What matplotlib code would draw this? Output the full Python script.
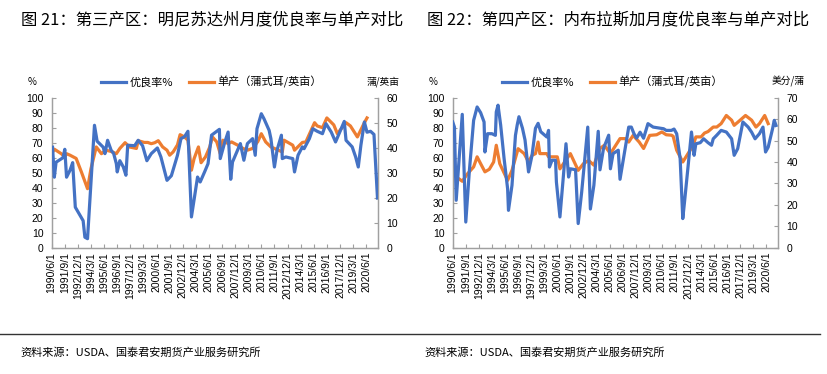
import matplotlib
matplotlib.use("Agg")
import matplotlib.pyplot as plt
import pandas as pd
from matplotlib.lines import Line2D

plt.rcParams['font.family'] = ['Liberation Sans Narrow', 'Liberation Sans', 'DejaVu Sans']
CJK = ['Noto Sans CJK SC', 'DejaVu Sans']

# ---- 明尼苏达州 (第三产区) ----
mn_good_dates = ['1990-07', '1990-09', '1990-11', '1991-07', '1991-09', '1991-11', '1992-03', '1992-06',
                 '1992-09', '1993-06', '1993-08', '1993-11', '1994-07', '1994-10', '1995-05', '1995-07',
                 '1995-10', '1996-02', '1996-05', '1996-08', '1996-09', '1996-12', '1997-04', '1997-07',
                 '1997-09', '1998-05', '1998-09', '1999-02', '1999-07', '1999-12', '2000-07', '2000-11',
                 '2001-06', '2001-11', '2002-06', '2002-10', '2003-02', '2003-06', '2003-10', '2004-05',
                 '2004-08', '2005-01', '2005-05', '2005-09', '2006-06', '2006-07', '2006-12', '2007-04',
                 '2007-07', '2007-09', '2008-06', '2008-10', '2009-02', '2009-08', '2009-11', '2010-01',
                 '2010-06', '2010-09', '2011-03', '2011-05', '2011-09', '2011-12', '2012-05', '2012-06',
                 '2012-10', '2013-06', '2013-08', '2013-12', '2014-05', '2014-07', '2015-01', '2015-05',
                 '2015-10', '2016-04', '2016-08', '2017-02', '2017-07', '2017-11', '2018-05', '2018-07',
                 '2019-02', '2019-06', '2019-09', '2019-12', '2020-04', '2020-07', '2020-11', '2021-03',
                 '2021-07']
mn_good = [67, 47, 57, 60, 65.6, 47, 51.6, 56.7,
           27, 18, 7, 6, 81.6, 71, 67, 62.7,
           71.6, 65, 62.7, 56, 50.5, 58, 53.8, 48.3,
           68.3, 68, 71.6, 68, 58, 62.7, 66.5, 60.5,
           44.9, 48, 61.6, 72.7, 74, 77.6, 20.5, 47.1,
           43.8, 50.5, 56, 75, 78.9, 59.4, 70, 77.1,
           45.6, 57.1, 69.4, 58.3, 69.4, 72.7, 61.6, 79.3,
           89.3, 86, 78.2, 72.7, 53.8, 65, 75, 59.4,
           60.5, 59.4, 50.5, 61.6, 67.2, 66, 72.7, 79.3,
           77.6, 76, 82.7, 77.1, 70.5, 76, 84.2, 71.6,
           67.2, 60.5, 53.8, 68.3, 83.8, 77, 77.6, 75.5,
           33.1]
mn_yield_dates = ['1990-06', '1990-09', '1991-05', '1991-09', '1991-11', '1992-03', '1992-10', '1993-04',
                  '1993-11', '1994-03', '1994-09', '1995-03', '1995-08', '1996-02', '1996-08', '1996-12',
                  '1997-06', '1997-11', '1998-07', '1998-09', '1999-04', '1999-08', '1999-12', '2000-04',
                  '2000-08', '2001-01', '2001-06', '2001-09', '2002-01', '2002-06', '2002-09', '2003-02',
                  '2003-06', '2003-10', '2004-01', '2004-06', '2004-09', '2005-02', '2005-07', '2005-10',
                  '2006-03', '2006-07', '2006-10', '2007-04', '2007-08', '2008-03', '2008-09', '2009-02',
                  '2009-08', '2010-02', '2010-06', '2010-11', '2011-05', '2011-09', '2012-06', '2012-08',
                  '2013-06', '2013-08', '2014-05', '2014-09', '2015-07', '2015-10', '2016-04', '2016-09',
                  '2017-05', '2017-09', '2018-07', '2018-12', '2019-08', '2020-04', '2020-07']
mn_yield = [37.6, 39.4, 37.6, 36.3, 37.6, 37, 35.7, 30.3,
            23.6, 31.6, 40.3, 37.6, 39, 38.5, 37.6, 39.7,
            42, 40.3, 39.7, 42.8, 42.1, 42.1, 41.6, 42,
            42.8, 40.3, 39, 37, 38.3, 41.1, 45.2, 44.3,
            43, 31, 35.6, 40.3, 34, 36.3, 40.3, 44.3,
            42.3, 37.6, 43, 41.6, 42.3, 41, 39.7, 39,
            39.7, 42.5, 45.6, 42.3, 40.3, 39.7, 38.3, 43,
            41, 39, 42.1, 42.3, 50, 48.7, 48, 51.9,
            49.1, 45.6, 50, 48.7, 44.3, 50, 51.9]

# ---- 内布拉斯加 (第四产区) ----
ne_good_dates = ['1990-06', '1990-08', '1990-10', '1991-05', '1991-09', '1992-01', '1992-06', '1992-10',
                 '1993-02', '1993-06', '1993-07', '1993-10', '1994-03', '1994-07', '1994-08', '1994-10',
                 '1995-01', '1995-05', '1995-09', '1995-10', '1996-02', '1996-06', '1996-08', '1996-10',
                 '1997-02', '1997-05', '1997-09', '1998-01', '1998-05', '1998-08', '1998-11', '1999-06',
                 '1999-08', '1999-09', '1999-12', '2000-04', '2000-05', '2000-09', '2001-01', '2001-04',
                 '2001-07', '2001-09', '2002-03', '2002-06', '2002-10', '2003-05', '2003-08', '2003-12',
                 '2004-05', '2004-07', '2004-11', '2005-05', '2005-07', '2005-10', '2006-04', '2006-06',
                 '2007-04', '2007-07', '2007-10', '2008-01', '2008-05', '2008-09', '2009-02', '2009-08',
                 '2010-08', '2010-11', '2011-05', '2011-08', '2011-11', '2012-03', '2012-06', '2012-08',
                 '2012-12', '2013-04', '2013-07', '2013-09', '2014-02', '2014-06', '2014-11', '2015-03',
                 '2015-05', '2015-09', '2016-02', '2016-08', '2017-02', '2017-05', '2017-09', '2018-03',
                 '2018-09', '2019-01', '2019-05', '2019-10', '2020-02', '2020-05', '2020-08', '2021-01',
                 '2021-03', '2021-05']
ne_good = [83.8, 80.4, 31.6, 88.9, 17.1, 50.5, 84.9, 93.8,
           90, 83.8, 63.8, 76, 76, 74.9, 90.5, 95,
           81.8, 59.4, 39.3, 24.9, 41.6, 74.9, 81.8, 87.3,
           79.6, 71.8, 50.5, 61.6, 79.6, 82.9, 77.3, 73.8,
           78.2, 53.8, 58.3, 58.3, 43.8, 20.5, 48, 69.3,
           47.1, 52.6, 52, 16.1, 37.1, 80.4, 25.8, 41.6,
           77.6, 51.9, 66.1, 75, 52.6, 62.7, 65, 45.6,
           80.4, 80.4, 76, 73, 77, 73, 82.7, 80.4,
           79.3, 78.2, 78.2, 79.1, 76, 59.4, 19.4, 30.5,
           53.8, 77.1, 61.6, 69.3, 70, 72.6, 70, 68.3,
           72.6, 75, 78.2, 77.1, 72.6, 61.6, 66, 83.8,
           80.4, 77, 72.6, 76, 80.4, 63.8, 67, 79.3,
           84.9, 81.5]
ne_yield_dates = ['1990-06', '1990-10', '1991-02', '1991-05', '1991-11', '1992-06', '1992-10', '1993-02',
                  '1993-07', '1993-12', '1994-05', '1994-08', '1994-12', '1995-09', '1996-02', '1996-09',
                  '1997-04', '1997-09', '1998-01', '1998-05', '1998-08', '1998-10', '1999-06', '1999-08',
                  '2000-06', '2000-09', '2001-09', '2002-06', '2002-12', '2003-06', '2003-12', '2004-07',
                  '2004-12', '2005-07', '2006-06', '2006-12', '2007-04', '2007-09', '2008-04', '2008-09',
                  '2009-04', '2009-12', '2010-06', '2010-11', '2011-05', '2011-07', '2011-11', '2012-06',
                  '2012-12', '2013-06', '2013-09', '2014-03', '2014-07', '2014-11', '2015-05', '2015-09',
                  '2016-02', '2016-08', '2017-02', '2017-05', '2017-09', '2018-06', '2019-01', '2019-06',
                  '2019-10', '2020-04', '2020-08']
ne_yield = [35.4, 33, 31.9, 31, 34.5, 37.7, 42.4, 39.2,
            35.4, 36.6, 40, 47.8, 39.2, 31.4, 36.1, 46.2,
            43.9, 40, 43.1, 43.9, 49.3, 43.9, 43.9, 42.4,
            42.4, 36.8, 43.9, 36.1, 39.2, 40.7, 38.5, 46.3,
            47.8, 43.9, 50.9, 50.9, 49.3, 52.4, 49.3, 46.3,
            52.4, 52.7, 54, 52.7, 52.5, 52, 45.5, 40,
            43.9, 47.8, 51.7, 51.7, 53.5, 54.2, 56.3, 56.3,
            57.9, 61.7, 59.5, 57.1, 58.5, 61.7, 59.5, 56.3,
            57.9, 61.7, 57.9]

tick_dates = pd.date_range('1990-06-01', '2020-06-01', freq='15MS')
tick_labels = [f"{d.year}/{d.month}/1" for d in tick_dates]

BLUE = '#4472C4'
ORANGE = '#ED7D31'
GRAY = '#A0A0A0'

fig = plt.figure(figsize=(8.27, 3.74), dpi=100)


def draw_panel(rect, good_dates, good, yld_dates, yld, rmax, runit, unit_x, runit_x):
    ax = fig.add_axes(rect)
    ax2 = ax.twinx()
    ax.plot(pd.to_datetime(good_dates, format='%Y-%m'), good, color=BLUE, lw=2.3, zorder=3)
    ax2.plot(pd.to_datetime(yld_dates, format='%Y-%m'), yld, color=ORANGE, lw=2.3)
    ax.set_zorder(ax2.get_zorder() + 1)  # blue line on top of orange
    ax.patch.set_visible(False)

    ax.set_xlim(pd.Timestamp('1990-06-01'), pd.Timestamp('2021-07-20'))
    ax.set_ylim(0, 100)
    ax.set_yticks(range(0, 101, 10))
    ax2.set_ylim(0, rmax)
    ax2.set_yticks(range(0, rmax + 1, 10))
    ax.set_xticks(tick_dates)
    ax.set_xticklabels(tick_labels, rotation=90, fontsize=7.5)

    for a in (ax, ax2):
        a.spines['top'].set_visible(False)
        for s in ('left', 'right', 'bottom'):
            a.spines[s].set_color(GRAY)
            a.spines[s].set_linewidth(0.9)
        a.tick_params(direction='in', length=3, color=GRAY, labelsize=7.5, width=0.8)
    ax.tick_params(axis='y', pad=6)
    ax2.tick_params(axis='y', pad=6)
    ax.tick_params(axis='x', pad=3)

    handles = [Line2D([], [], color=BLUE, lw=2.3), Line2D([], [], color=ORANGE, lw=2.3)]
    ax.legend(handles, ['优良率%', '单产（蒲式耳/英亩）'], loc='center', ncol=2,
              bbox_to_anchor=(0.49, 1.105), frameon=False, handlelength=2.3,
              columnspacing=1.4, handletextpad=0.3, prop={'family': CJK, 'size': 8})
    fig.text(unit_x, 0.781, '%', fontsize=7, ha='center', va='center', family=CJK)
    fig.text(runit_x, 0.781, runit, fontsize=7, ha='center', va='center', family=CJK)


draw_panel([0.0625, 0.3377, 0.3946, 0.4011], mn_good_dates, mn_good, mn_yield_dates, mn_yield,
           60, '蒲/英亩', 32 / 827, 383 / 827)
draw_panel([0.5474, 0.3377, 0.3937, 0.4011], ne_good_dates, ne_good, ne_yield_dates, ne_yield,
           70, '美分/蒲', 433 / 827, 788 / 827)

fig.text(21 / 827, 1 - 20 / 374, '图 21：第三产区：明尼苏达州月度优良率与单产对比',
         fontsize=11.8, family=CJK, va='center', ha='left')
fig.text(427 / 827, 1 - 20 / 374, '图 22：第四产区：内布拉斯加月度优良率与单产对比',
         fontsize=11.8, family=CJK, va='center', ha='left')

fig.add_artist(Line2D([0, 820 / 827], [1 - 334 / 374] * 2, color='#333333', lw=1.0))
fig.text(20 / 827, 1 - 353 / 374, '资料来源：USDA、国泰君安期货产业服务研究所',
         fontsize=8, family=CJK, va='center', ha='left')
fig.text(424 / 827, 1 - 353 / 374, '资料来源：USDA、国泰君安期货产业服务研究所',
         fontsize=8, family=CJK, va='center', ha='left')

fig.savefig('out.png', dpi=100)
